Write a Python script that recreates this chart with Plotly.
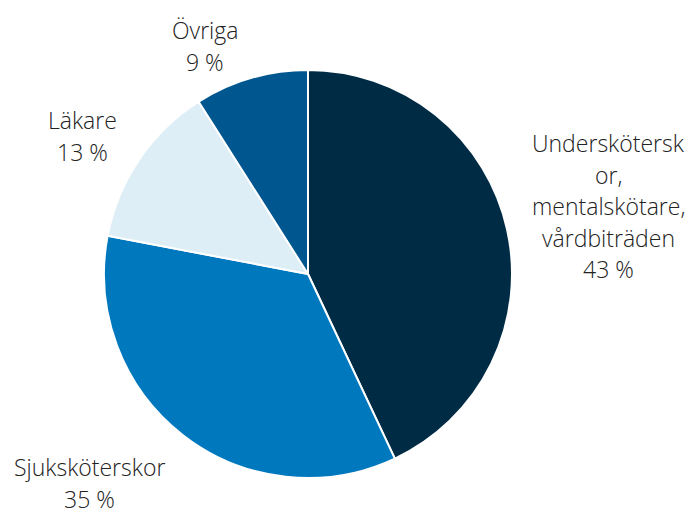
import plotly.graph_objects as go

W, H = 693, 512

# data
categories = ["Undersköterskor, mentalskötare, vårdbiträden",
              "Sjuksköterskor", "Läkare", "Övriga"]
shares = [43, 35, 13, 9]
colors = ["#002B45", "#0078BE", "#DDEEF6", "#00568F"]

# label lines as they wrap in the original
label_lines = [
    ["Underskötersk", "or,", "mentalskötare,", "vårdbiträden", "43 %"],
    ["Sjuksköterskor", "35 %"],
    ["Läkare", "13 %"],
    ["Övriga", "9 %"],
]
# (centre x px, first-line centre y px, line step px) for each label block
label_pos = [(608, 143, 31.5), (90, 467, 32), (82, 120, 32), (205, 30, 32)]

fig = go.Figure(go.Pie(
    labels=categories, values=shares, sort=False, direction="clockwise",
    rotation=0, textinfo="none", hoverinfo="label+percent",
    marker=dict(colors=colors, line=dict(color="white", width=2)),
    domain=dict(x=[104 / W, 512 / W], y=[1 - 478 / H, 1 - 70 / H]),
    showlegend=False,
))

for lines, (cx, cy, step) in zip(label_lines, label_pos):
    for i, line in enumerate(lines):
        fig.add_annotation(
            x=cx / W, y=1 - (cy + i * step) / H, xref="paper", yref="paper",
            text=line, showarrow=False, xanchor="center", yanchor="middle",
            font=dict(family="Open Sans", size=23, color="#222222", weight=300),
        )

fig.update_layout(width=W, height=H, margin=dict(l=0, r=0, t=0, b=0),
                  paper_bgcolor="white", plot_bgcolor="white")
fig.write_html("out.html", config={"displayModeBar": False},
               post_script="document.body.style.margin='0';")
